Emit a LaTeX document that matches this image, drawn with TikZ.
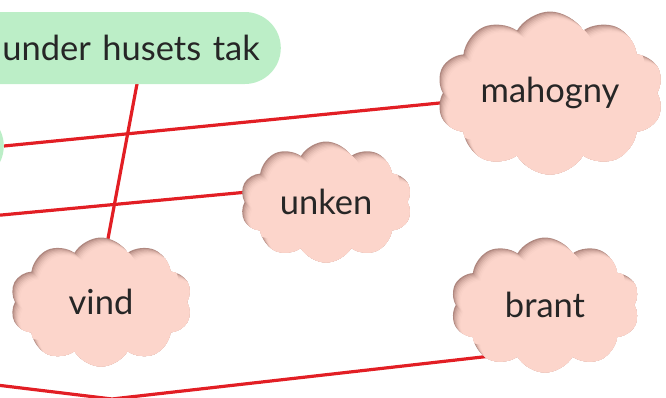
\documentclass[tikz,border=0pt]{standalone}
\usepackage{fontspec}
\setmainfont{Lato}
\usepackage{tikz}
\usetikzlibrary{shapes.symbols,calc}
\pgfdeclarelayer{background}
\pgfsetlayers{background,main}

\definecolor{tagGreen}{RGB}{188,238,199}
\definecolor{puffFill}{RGB}{252,213,203}
\definecolor{puffEdge}{RGB}{176,136,128}
\definecolor{linkRed}{RGB}{226,30,36}
\definecolor{inkGray}{RGB}{38,38,38}

\tikzset{
  word/.style={text=inkGray, font=\fontsize{34.5}{40}\selectfont},
  pill/.style={word, fill=tagGreen, rounded corners=36pt, minimum height=72pt, inner xsep=21pt},
  puff/.style={cloud, cloud puffs=10, cloud puff arc=120, cloud ignores aspect, inner sep=0pt},
  bubble/.style 2 args={word, puff, minimum width=#1, minimum height=#2, fill=puffEdge,
    path picture={
      \foreach \k/\mix in {1/30,2/50,3/66,4/79,5/89,6/96,7/100}
        \node[puff, minimum width=#1, minimum height=#2, fill=puffFill!\mix!puffEdge]
          at ([shift={(1.1*\k pt,-1.1*\k pt)}]path picture bounding box.center) {};
    }},
  link/.style={draw=linkRed, line width=3.2pt}
}

\begin{document}
\begin{tikzpicture}[x=1pt,y=-1pt]
    \useasboundingbox (0,0) rectangle (666,397);
    \node[pill, anchor=east, text width=300pt, align=right] (tak) at (281,48) {under husets tak};
    \node[pill, anchor=east, minimum width=200pt] (side) at (4,146) {};
    \node[bubble={227pt}{163pt}] (mahogny) at (550,93) {mahogny};
    \node[bubble={172pt}{121pt}] (unken) at (326,202) {unken};
    \node[bubble={182pt}{129pt}] (vind) at (101,302) {vind};
    \node[bubble={189pt}{135pt}] (brant) at (545,305) {brant};
    \coordinate (w2) at (-20,217);
    \coordinate (w3) at (-20,383);
    \coordinate (low) at (112,399);
    \begin{pgfonlayer}{background}
        \draw[link] (side.east) -- ([shift={(-80pt,-7pt)}]mahogny.center);
        \draw[link] ([shift={(-142pt,11pt)}]tak.south east) -- ([shift={(3pt,42pt)}]vind.center);
        \draw[link] (w2) -- ([shift={(-46pt,13pt)}]unken.center);
        \draw[link] (w3) -- (low) -- ([shift={(-45pt,-50pt)}]brant.center);
    \end{pgfonlayer}
\end{tikzpicture}
\end{document}
